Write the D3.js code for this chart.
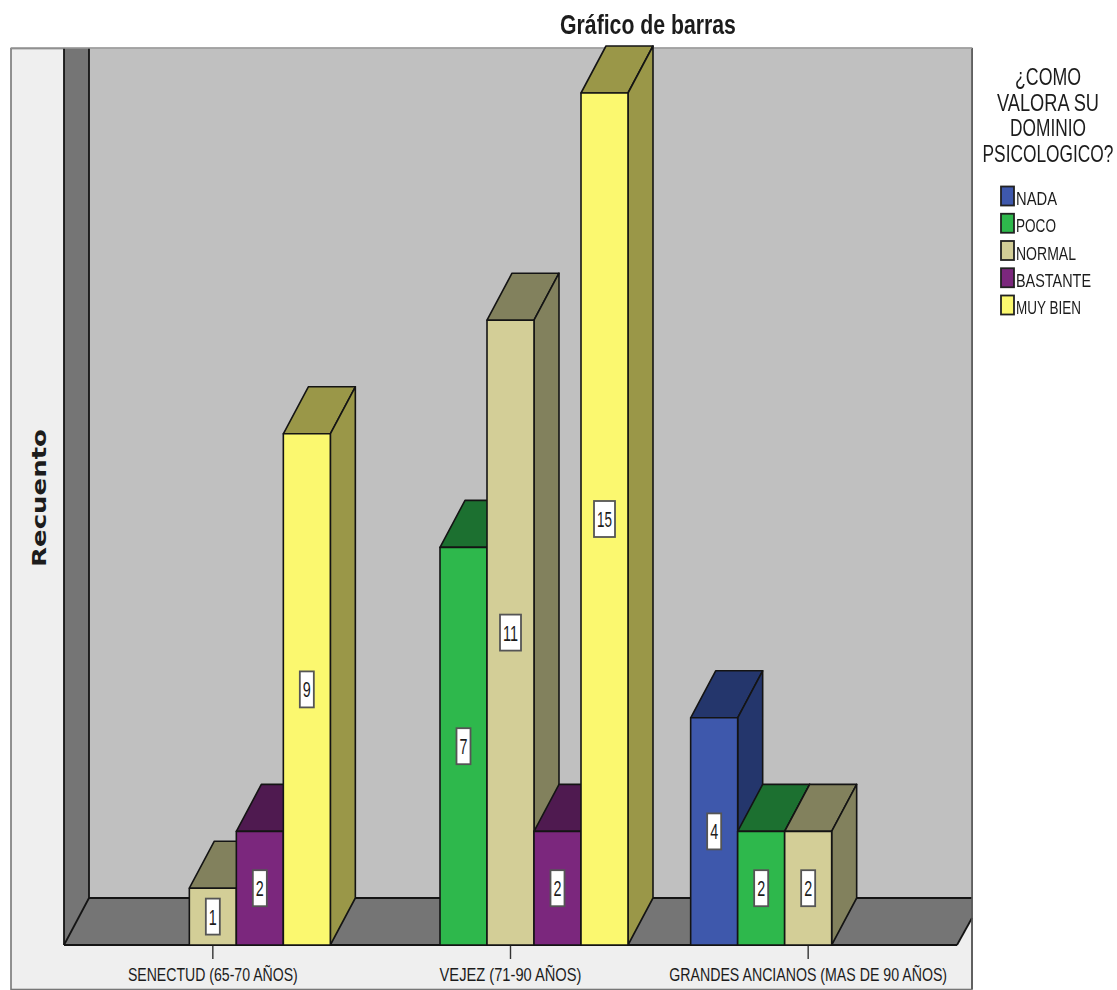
<!DOCTYPE html>
<html><head><meta charset="utf-8">
<script src="https://cdnjs.cloudflare.com/ajax/libs/d3/7.8.5/d3.min.js"></script>
<style>html,body{margin:0;padding:0;background:#fff}svg{display:block;filter:blur(.4px)}text{font-family:"Liberation Sans",Arial,sans-serif;fill:#1c1c1c}</style>
</head><body><svg id="c" width="1117" height="990"></svg>
<script>
const chartTitle = "Gráfico de barras";
const yTitle = "Recuento";
const legendTitle = ["¿COMO", "VALORA SU", "DOMINIO", "PSICOLOGICO?"];
const categories = ["SENECTUD (65-70 AÑOS)", "VEJEZ (71-90 AÑOS)", "GRANDES ANCIANOS (MAS DE 90 AÑOS)"];
const seriesNames = ["NADA", "POCO", "NORMAL", "BASTANTE", "MUY BIEN"];
const nada     = [0, 0, 4];
const poco     = [0, 7, 2];
const normal   = [1, 11, 2];
const bastante = [2, 2, 0];
const muyBien  = [9, 15, 0];
const seriesValues = [nada, poco, normal, bastante, muyBien];
const frontColors = ["#3e58ac", "#2eb84c", "#d3ce97", "#7b277d", "#fbf86f"];
const depthColors = ["#24366c", "#1c7030", "#82815d", "#4f1a50", "#9a9748"];

const svg = d3.select("#c");
const dx = 25, dy = -47;
const x0 = 64, x1 = 957, base = 945, frameR = 972;
const x = d3.scaleBand().domain(categories).range([x0, x1]);
const inner = d3.scaleBand().domain(seriesNames).range([-117.5, 117.5]);
const y = d3.scaleLinear().domain([0, 15]).range([base, 93]);
const stroke = "#141414";
const poly = (pts, fill, w = 1.6) => svg.append("polygon")
  .attr("points", pts.map(p => p.join(",")).join(" "))
  .attr("fill", fill).attr("stroke", stroke).attr("stroke-width", w).attr("stroke-linejoin", "round");

// Text squeezed horizontally to a given width, as in the reference's stretched image
const fitText = (str, px, py, width, size, opts = {}) => {
  const t = svg.append("text").attr("text-anchor", opts.anchor || "middle").attr("font-size", size)
    .attr("font-weight", opts.weight || "normal").text(str);
  if (opts.family) t.style("font-family", opts.family);
  const natural = t.node().getComputedTextLength();
  t.attr("transform", `translate(${px},${py}) rotate(${opts.rotate || 0}) scale(${width / natural},1)`);
  return t;
};

// outer panel
svg.append("rect").attr("x", 11).attr("y", 48.5).attr("width", 961).attr("height", 941)
  .attr("fill", "#efefef").attr("stroke", "#777").attr("stroke-width", 1.6);
// back wall
svg.append("rect").attr("x", x0 + dx).attr("y", 48).attr("width", frameR - x0 - dx).attr("height", base + dy - 48).attr("fill", "#c0c0c0");
// left wall
svg.append("polygon").attr("points", `${x0},48 ${x0+dx},48 ${x0+dx},${base+dy} ${x0},${base}`).attr("fill", "#757575");
// floor
svg.append("polygon").attr("points", `${x0},${base} ${x0+dx},${base+dy} ${frameR},${base+dy} ${frameR},${base-27} ${x1},${base}`).attr("fill", "#757575");
const line = (a, b, c, d, col = stroke, w = 1.8) => svg.append("line").attr("x1", a).attr("y1", b).attr("x2", c).attr("y2", d).attr("stroke", col).attr("stroke-width", w);
line(x0, 48, x0, base);
line(x0 + dx, 48, x0 + dx, base + dy);
line(x0 + dx, base + dy, frameR, base + dy);
line(x0, base, x0 + dx, base + dy);
line(x0, base, x1, base);
line(x1, base, frameR, base - 27);
line(972, 48, 972, 989, "#555", 1.6);
line(11, 48, 972, 48, "#999", 1.4);

// category ticks and labels
const catLabelW = [170, 142, 278];
categories.forEach((c, i) => {
  const cx = x(c) + x.bandwidth() / 2;
  line(cx, base, cx, base + 14, "#333", 1.4);
  fitText(c, cx, 981, catLabelW[i], 18);
});

// bars, left to right
categories.forEach((c, ci) => {
  const cx = x(c) + x.bandwidth() / 2;
  seriesNames.forEach((s, si) => {
    const v = seriesValues[si][ci];
    if (!v) return;
    const l = cx + inner(s), r = l + inner.bandwidth(), t = y(v);
    poly([[l, t], [l + dx, t + dy], [r + dx, t + dy], [r, t]], depthColors[si]);
    poly([[r, t], [r + dx, t + dy], [r + dx, base + dy], [r, base]], depthColors[si]);
    poly([[l, t], [r, t], [r, base], [l, base]], frontColors[si]);
  });
});
// value labels
categories.forEach((c, ci) => {
  const cx = x(c) + x.bandwidth() / 2;
  seriesNames.forEach((s, si) => {
    const v = seriesValues[si][ci];
    if (!v) return;
    const m = cx + inner(s) + inner.bandwidth() / 2, my = (y(v) + base) / 2;
    const w = v > 9 ? 21 : 14;
    svg.append("rect").attr("x", m - w / 2).attr("y", my - 18).attr("width", w).attr("height", 36)
      .attr("fill", "#fff").attr("stroke", "#555").attr("stroke-width", 1.8);
    fitText(String(v), m, my + 8, v > 9 ? 15 : 8, 22);
  });
});

// titles
fitText(chartTitle, 648, 34, 176, 27, { weight: "bold" });
fitText(yTitle, 46, 498, 138, 19, { rotate: -90, family: "'DejaVu Sans'", weight: "bold" });

// legend
const ltW = [66, 102, 76, 131], ltY = [85, 111, 136, 162];
legendTitle.forEach((t, i) => fitText(t, 1048, ltY[i], ltW[i], 24));
const legW = [41, 40, 60, 75, 65];
const legY = d3.scalePoint().domain(seriesNames).range([196, 305]);
seriesNames.forEach((s, i) => {
  svg.append("rect").attr("x", 1001).attr("y", legY(s) - 9.5).attr("width", 13).attr("height", 19)
    .attr("fill", frontColors[i]).attr("stroke", "#222").attr("stroke-width", 1.8);
  fitText(s, 1016, legY(s) + 9, legW[i], 19, { anchor: "start" });
});
</script></body></html>
